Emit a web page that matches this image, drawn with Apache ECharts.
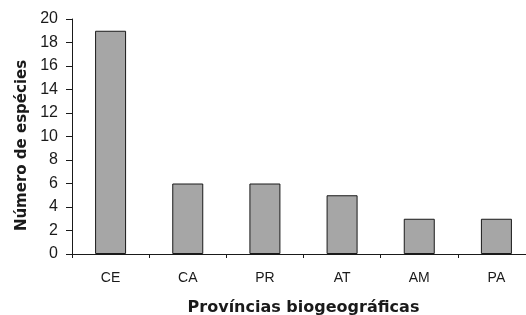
<!DOCTYPE html>
<html>
<head>
<meta charset="utf-8">
<script src="https://cdn.jsdelivr.net/npm/echarts@6/dist/echarts.min.js"></script>
<style>
	html, body { margin: 0; padding: 0; background: #fff; }
	#chart { width: 526px; height: 315px; }
</style>
</head>
<body>
<div id="chart"></div>
<script>
// provincias e numero de especies
var provincias = ['CE', 'CA', 'PR', 'AT', 'AM', 'PA'];
var especies = [19, 6, 6, 5, 3, 3];

var myChart = echarts.init(document.getElementById('chart'));

var option = {
	animation: false,
	grid: {
		left: 72,
		right: -9,
		top: 19,
		bottom: 61,
		outerBoundsMode: 'none'
	},
	xAxis: {
		type: 'category',
		data: provincias,
		name: 'Províncias biogeográficas',
		nameLocation: 'middle',
		nameGap: 46,
		nameTextStyle: {
			color: '#1a1a1a',
			fontFamily: 'DejaVu Sans',
			fontWeight: 'bold',
			fontSize: 16
		},
		axisLine: { lineStyle: { color: '#1a1a1a', width: 1 } },
		axisTick: { show: true, length: 4, lineStyle: { color: '#1a1a1a' } },
		axisLabel: {
			color: '#1a1a1a',
			fontFamily: 'Liberation Sans',
			fontSize: 14,
			margin: 17
		}
	},
	yAxis: {
		type: 'value',
		min: 0,
		max: 20,
		interval: 2,
		name: 'Número de espécies',
		nameLocation: 'middle',
		nameGap: 32,
		nameTextStyle: {
			color: '#1a1a1a',
			fontFamily: 'DejaVu Sans',
			fontWeight: 'bold',
			fontSize: 15,
			padding: [0, 18, 0, 0]
		},
		axisLine: { show: true, lineStyle: { color: '#1a1a1a', width: 1 } },
		axisTick: { show: true, length: 6, lineStyle: { color: '#1a1a1a' } },
		axisLabel: {
			color: '#1a1a1a',
			fontFamily: 'Liberation Sans',
			fontSize: 16,
			margin: 14
		},
		splitLine: { show: false }
	},
	series: [{
		type: 'bar',
		data: especies,
		barWidth: 31,
		itemStyle: {
			color: '#a6a6a6',
			borderColor: '#1a1a1a',
			borderWidth: 1
		}
	}]
};
myChart.setOption(option);
</script>
</body>
</html>
